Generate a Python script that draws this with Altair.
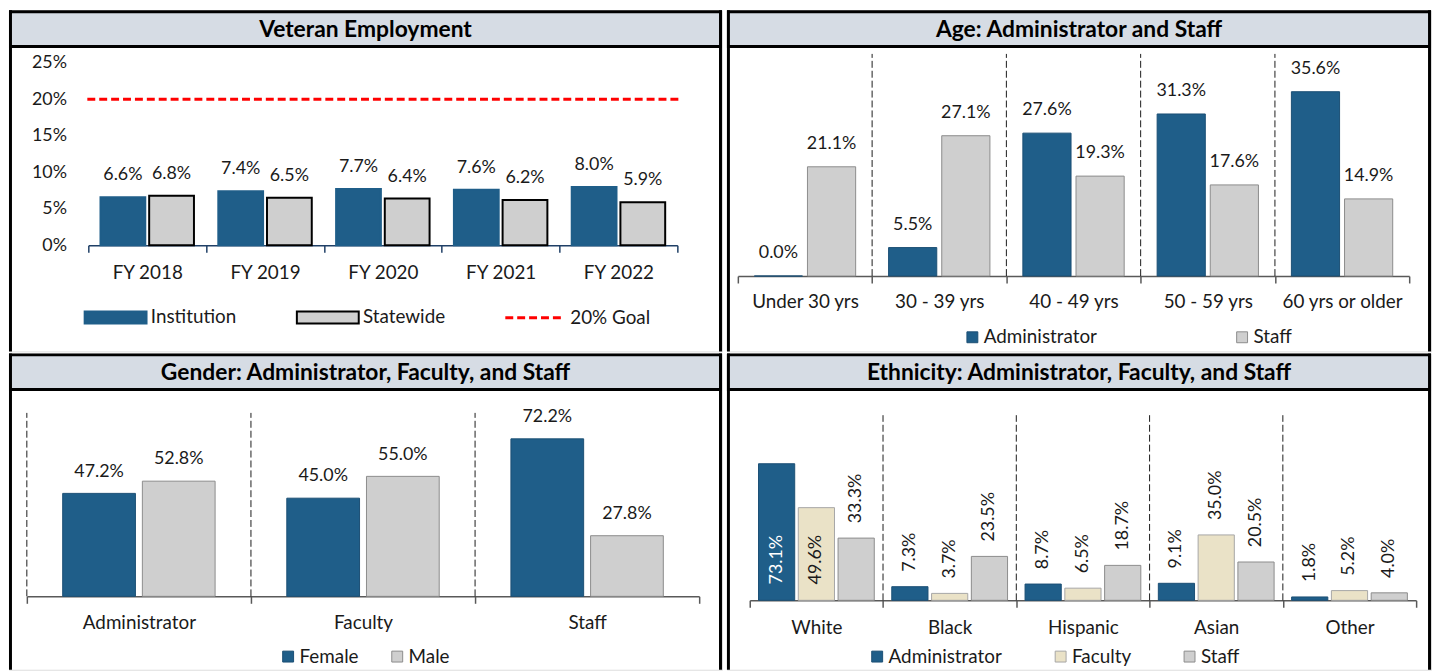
import altair as alt
import pandas as pd

FONT = "Lato"
BLUE = "#1F5E89"
BLUE_EDGE = "#1B4F74"
GRAY = "#CFCFCF"
GRAY_EDGE = "#8C8C8C"
BEIGE = "#EAE2C7"
BEIGE_EDGE = "#A6A6A6"
TITLE_BG = "#D6DCE4"
TXT = "#1A1A1A"

# ---------------- data ----------------
titles = ["Veteran Employment", "Age: Administrator and Staff",
          "Gender: Administrator, Faculty, and Staff", "Ethnicity: Administrator, Faculty, and Staff"]

vet_years = ["FY 2018", "FY 2019", "FY 2020", "FY 2021", "FY 2022"]
vet_series = ["Institution", "Statewide"]
vet_institution = [6.6, 7.4, 7.7, 7.6, 8.0]
vet_statewide = [6.8, 6.5, 6.4, 6.2, 5.9]
vet_goal_label = "20% Goal"
vet_goal = 20
vet_ticks = [0, 5, 10, 15, 20, 25]

age_groups = ["Under 30 yrs", "30 - 39 yrs", "40 - 49 yrs", "50 - 59 yrs", "60 yrs or older"]
age_series = ["Administrator", "Staff"]
age_admin = [0.0, 5.5, 27.6, 31.3, 35.6]
age_staff = [21.1, 27.1, 19.3, 17.6, 14.9]

gender_roles = ["Administrator", "Faculty", "Staff"]
gender_series = ["Female", "Male"]
gender_female = [47.2, 45.0, 72.2]
gender_male = [52.8, 55.0, 27.8]

eth_groups = ["White", "Black", "Hispanic", "Asian", "Other"]
eth_series = ["Administrator", "Faculty", "Staff"]
eth_admin = [73.1, 7.3, 8.7, 9.1, 1.8]
eth_faculty = [49.6, 3.7, 6.5, 35.0, 5.2]
eth_staff = [33.3, 23.5, 18.7, 20.5, 4.0]
eth_inside = [("White", "Administrator"), ("White", "Faculty")]

# domain tops of the bar panels (where the dashed separators end)
age_ymax = 42.9
gender_ymax = 84.1
eth_ymax = 99.1

IND = dict(fill="independent", stroke="independent", strokeDash="independent",
           xOffset="independent", color="independent")
LIND = dict(fill="independent", stroke="independent", strokeDash="independent")


def long_df(cats, series, values):
    rows = []
    for s, vals in zip(series, values):
        for c, v in zip(cats, vals):
            rows.append({"cat": c, "series": s, "value": v, "base": 0.0,
                         "label": f"{v:.1f}%", "inside": (c, s) in eth_inside})
    return pd.DataFrame(rows)


def frame_layers(W, H, title):
    """Panel frame: black side borders, black/grey title band and the bold title."""
    d = pd.DataFrame({"title": [title]})
    base = alt.Chart(d)
    blk = base.mark_rect(fill="black", strokeWidth=0)
    return [
        blk.encode(x=alt.value(0), x2=alt.value(3), y=alt.value(0), y2=alt.value(H)),
        blk.encode(x=alt.value(W - 3), x2=alt.value(W), y=alt.value(0), y2=alt.value(H)),
        blk.encode(x=alt.value(0), x2=alt.value(W), y=alt.value(0), y2=alt.value(38)),
        base.mark_rect(fill=TITLE_BG, strokeWidth=0).encode(
            x=alt.value(3), x2=alt.value(W - 3), y=alt.value(3), y2=alt.value(35)),
        base.mark_text(font=FONT, fontSize=23, fontWeight="bold", color="black",
                       baseline="middle").encode(
            x=alt.value(W / 2), y=alt.value(19.5), text="title:N"),
    ]


def x_axis(H, axis_y, color, gap):
    return alt.Axis(orient="bottom", offset=axis_y - H, title=None, labelAngle=0,
                    domainColor=color, domainWidth=1.5, tickColor=color, tickWidth=1.5,
                    tickSize=7, tickBand="extent", labelFont=FONT, labelFontSize=19,
                    labelColor=TXT, labelPadding=gap - 7, labelBaseline="middle",
                    labelOverlap=False, grid=False)


def sq_legend(x, y, pad):
    return alt.Legend(orient="none", legendX=x, legendY=y, direction="horizontal", title=None,
                      symbolType="square", symbolSize=121, symbolStrokeWidth=1,
                      labelFont=FONT, labelFontSize=19, labelColor=TXT, labelOffset=2,
                      columnPadding=pad, padding=0)


def dividers(cats, ymax, x, y):
    d = pd.DataFrame({"cat": cats, "value": [0.0] * len(cats), "top": [ymax] * len(cats)})
    return alt.Chart(d).mark_rule(color=TXT, strokeWidth=1, strokeDash=[7, 3]).encode(
        x=x, y=y, y2="top:Q")


# ---------------- Veteran Employment ----------------
W1, H1 = 719, 344
vdf = long_df(vet_years, vet_series, [vet_institution, vet_statewide])
vx = alt.X("cat:N", title=None,
           scale=alt.Scale(domain=vet_years, range=[80, 674], paddingInner=0, paddingOuter=0),
           axis=x_axis(H1, 237, "#1F3F66", 27))
vxo = alt.XOffset("series:N", scale=alt.Scale(domain=vet_series, paddingInner=0.08, paddingOuter=0.25))
vy = alt.Y("value:Q", title=None, stack=None,
           scale=alt.Scale(domain=[0, 25], range=[237, 53], nice=False),
           axis=alt.Axis(orient="left", offset=-80, values=vet_ticks, labelExpr="datum.value + '%'",
                         domain=False, ticks=False, grid=False, labelFont=FONT, labelFontSize=18,
                         labelColor=TXT, labelPadding=22, labelBaseline="middle", title=None))
vleg = alt.Legend(orient="none", legendX=74, legendY=300, direction="horizontal", title=None,
                  symbolType="M-5.2,-1H5.2V1H-5.2Z", symbolSize=144, symbolStrokeWidth=2,
                  symbolOffset=24, labelOffset=26, labelFont=FONT, labelFontSize=19,
                  labelColor=TXT, columnPadding=56, padding=0)
vbars = alt.Chart(vdf).mark_bar(strokeWidth=2).encode(
    x=vx, xOffset=vxo, y=vy,
    fill=alt.Fill("series:N", scale=alt.Scale(domain=vet_series, range=[BLUE, GRAY]), legend=vleg),
    stroke=alt.Stroke("series:N", scale=alt.Scale(domain=vet_series, range=[BLUE, "black"]), legend=vleg),
)
vlabels = alt.Chart(vdf).mark_text(font=FONT, fontSize=18, color=TXT, baseline="middle", dy=-22).encode(
    x=vx, xOffset=vxo, y=vy, text="label:N")
goal_df = pd.DataFrame({"goal": [vet_goal_label], "value": [vet_goal]})
vgoal = alt.Chart(goal_df).mark_rule(color="#FF0000", strokeWidth=3).encode(
    y=vy, x=alt.value(79), x2=alt.value(679),
    strokeDash=alt.StrokeDash("goal:N", scale=alt.Scale(domain=[vet_goal_label], range=[[8, 4]]),
                              legend=alt.Legend(orient="none", legendX=499, legendY=279, title=None,
                                                symbolType="stroke", symbolSize=59 * 59,
                                                symbolStrokeColor="#FF0000", symbolStrokeWidth=3,
                                                labelOffset=5, labelFont=FONT, labelFontSize=19,
                                                labelColor=TXT, padding=0)))
veteran = alt.layer(*frame_layers(W1, H1, titles[0]), vbars, vgoal, vlabels).properties(
    width=W1, height=H1)

# ---------------- Age ----------------
W2, H2 = 710, 344
adf = long_df(age_groups, age_series, [age_admin, age_staff])
ax_scale = alt.Scale(domain=age_groups, range=[11, 688], paddingInner=0, paddingOuter=0)
ax_axis = x_axis(H2, 268, "#595959", 26)
ax = alt.X("cat:N", title=None, scale=ax_scale, axis=ax_axis)
ax_div = alt.X("cat:N", title=None, scale=ax_scale, axis=ax_axis, bandPosition=0)
axo = alt.XOffset("series:N", scale=alt.Scale(domain=age_series, paddingInner=0.0935, paddingOuter=0.31))
ay = alt.Y("value:Q", title=None, stack=None, axis=None,
           scale=alt.Scale(domain=[0, age_ymax], range=[268, 44], nice=False))
aleg = sq_legend(238, 320, 136)
abars = alt.Chart(adf).mark_bar(strokeWidth=1).encode(
    x=ax, xOffset=axo, y=ay,
    fill=alt.Fill("series:N", scale=alt.Scale(domain=age_series, range=[BLUE, GRAY]), legend=aleg),
    stroke=alt.Stroke("series:N", scale=alt.Scale(domain=age_series, range=[BLUE_EDGE, GRAY_EDGE]), legend=aleg),
)
alabels = alt.Chart(adf).mark_text(font=FONT, fontSize=18, color=TXT, baseline="middle", dy=-23).encode(
    x=ax, xOffset=axo, y=ay, text="label:N")
age = alt.layer(*frame_layers(W2, H2, titles[1]), dividers(age_groups[1:], age_ymax, ax_div, ay),
                abars, alabels).properties(width=W2, height=H2)

# ---------------- Gender ----------------
W3, H3 = 719, 319
gdf = long_df(gender_roles, gender_series, [gender_female, gender_male])
gx_scale = alt.Scale(domain=gender_roles, range=[18, 696], paddingInner=0, paddingOuter=0)
gx_axis = x_axis(H3, 245, "#595959", 26)
gx = alt.X("cat:N", title=None, scale=gx_scale, axis=gx_axis)
gx_div = alt.X("cat:N", title=None, scale=gx_scale, axis=gx_axis, bandPosition=0)
gxo = alt.XOffset("series:N", scale=alt.Scale(domain=gender_series, paddingInner=0.087, paddingOuter=0.45))
gy = alt.Y("value:Q", title=None, stack=None, axis=None,
           scale=alt.Scale(domain=[0, gender_ymax], range=[245, 60], nice=False))
gleg = sq_legend(272, 296, 29)
gbars = alt.Chart(gdf).mark_bar(strokeWidth=1).encode(
    x=gx, xOffset=gxo, y=gy,
    fill=alt.Fill("series:N", scale=alt.Scale(domain=gender_series, range=[BLUE, GRAY]), legend=gleg),
    stroke=alt.Stroke("series:N", scale=alt.Scale(domain=gender_series, range=[BLUE_EDGE, GRAY_EDGE]), legend=gleg),
)
glabels = alt.Chart(gdf).mark_text(font=FONT, fontSize=18, color=TXT, baseline="middle", dy=-22).encode(
    x=gx, xOffset=gxo, y=gy, text="label:N")
gender = alt.layer(*frame_layers(W3, H3, titles[2]), dividers(gender_roles, gender_ymax, gx_div, gy),
                   gbars, glabels).properties(width=W3, height=H3)

# ---------------- Ethnicity ----------------
W4, H4 = 710, 319
edf = long_df(eth_groups, eth_series, [eth_admin, eth_faculty, eth_staff])
ex_scale = alt.Scale(domain=eth_groups, range=[23, 695], paddingInner=0, paddingOuter=0)
ex_axis = x_axis(H4, 249, "#595959", 27)
ex = alt.X("cat:N", title=None, scale=ex_scale, axis=ex_axis)
ex_div = alt.X("cat:N", title=None, scale=ex_scale, axis=ex_axis, bandPosition=0)
exo = alt.XOffset("series:N", scale=alt.Scale(domain=eth_series, paddingInner=0.09, paddingOuter=0.22))
ey_scale = alt.Scale(domain=[0, eth_ymax], range=[249, 62.3], nice=False)
ey = alt.Y("value:Q", title=None, stack=None, axis=None, scale=ey_scale)
ey_base = alt.Y("base:Q", title=None, stack=None, axis=None, scale=ey_scale)
eleg = sq_legend(142, 296, 49)
ebars = alt.Chart(edf).mark_bar(strokeWidth=1).encode(
    x=ex, xOffset=exo, y=ey,
    fill=alt.Fill("series:N", scale=alt.Scale(domain=eth_series, range=[BLUE, BEIGE, GRAY]), legend=eleg),
    stroke=alt.Stroke("series:N", scale=alt.Scale(domain=eth_series, range=[BLUE_EDGE, BEIGE_EDGE, GRAY_EDGE]), legend=eleg),
)
elabels_out = alt.Chart(edf).transform_filter("!datum.inside").mark_text(
    font=FONT, fontSize=18, color=TXT, angle=270, align="left", baseline="middle", dx=15).encode(
    x=ex, xOffset=exo, y=ey, text="label:N")
elabels_in = alt.Chart(edf).transform_filter("datum.inside").mark_text(
    font=FONT, fontSize=18, angle=270, align="left", baseline="middle", dx=16).encode(
    x=ex, xOffset=exo, y=ey_base, text="label:N",
    color=alt.condition("datum.series == 'Administrator'", alt.value("white"), alt.value(TXT)))
eth = alt.layer(*frame_layers(W4, H4, titles[3]), dividers(eth_groups[1:], eth_ymax, ex_div, ey),
                ebars, elabels_out, elabels_in).properties(width=W4, height=H4)

top = alt.hconcat(veteran, age, spacing=3).resolve_scale(**IND).resolve_legend(**LIND)
bottom = alt.hconcat(gender, eth, spacing=3).resolve_scale(**IND).resolve_legend(**LIND)
chart = alt.vconcat(top, bottom, spacing=0, background="white",
                    padding={"top": -1.5, "left": 0, "right": 0, "bottom": 0}).resolve_scale(
    **IND).resolve_legend(**LIND).configure_view(stroke=None).configure(font=FONT)

chart.save("out.html", embed_options={"renderer": "svg", "actions": False})
